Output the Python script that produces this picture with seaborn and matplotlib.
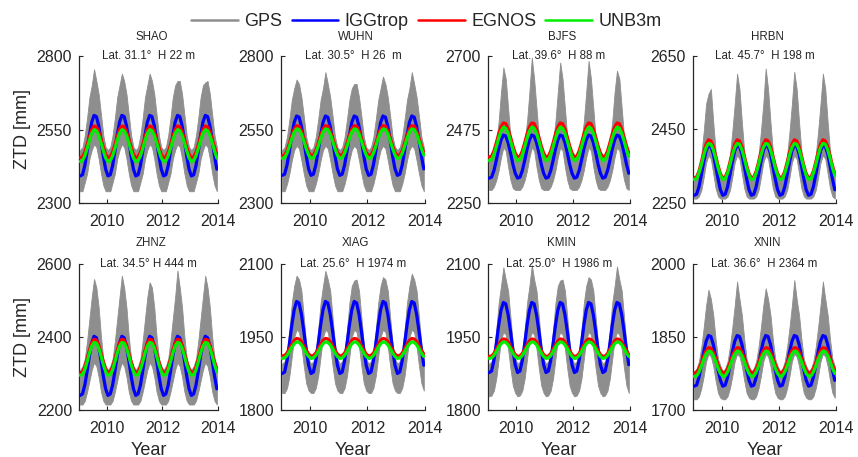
import matplotlib
matplotlib.use("Agg")
import numpy as np
import pandas as pd
import matplotlib.pyplot as plt
from matplotlib.lines import Line2D
import seaborn as sns

# ---------------- data ----------------
stations = ["SHAO", "WUHN", "BJFS", "HRBN", "ZHNZ", "XIAG", "KMIN", "XNIN"]
site_labels = ["Lat. 31.1°  H 22 m", "Lat. 30.5°  H 26  m", "Lat. 39.6°  H 88 m",
               "Lat. 45.7°  H 198 m", "Lat. 34.5° H 444 m", "Lat. 25.6°  H 1974 m",
               "Lat. 25.0°  H 1986 m", "Lat. 36.6°  H 2364 m"]
y_ticks = [[2300, 2550, 2800], [2300, 2550, 2800], [2250, 2475, 2700], [2250, 2450, 2650],
           [2200, 2400, 2600], [1800, 1950, 2100], [1800, 1950, 2100], [1700, 1850, 2000]]
years = [2009, 2010, 2011, 2012, 2013]
months = list(range(12))
x_ticks = [2010, 2012, 2014]

# model monthly climatology (Jan..Dec), mm
igg_shao = [2392, 2396, 2427, 2476, 2531, 2575, 2598, 2594, 2563, 2514, 2459, 2415]
egn_shao = [2454, 2457, 2473, 2498, 2526, 2550, 2562, 2559, 2543, 2518, 2490, 2466]
unb_shao = [2441, 2444, 2460, 2485, 2513, 2537, 2549, 2546, 2530, 2505, 2477, 2453]

igg_wuhn = [2394, 2398, 2429, 2477, 2530, 2574, 2596, 2592, 2561, 2513, 2460, 2416]
egn_wuhn = [2461, 2463, 2478, 2503, 2530, 2552, 2563, 2561, 2546, 2521, 2494, 2472]
unb_wuhn = [2452, 2454, 2469, 2493, 2519, 2541, 2552, 2550, 2535, 2511, 2485, 2463]

igg_bjfs = [2326, 2329, 2349, 2380, 2415, 2443, 2458, 2455, 2435, 2404, 2369, 2341]
egn_bjfs = [2391, 2393, 2409, 2434, 2461, 2483, 2495, 2493, 2477, 2452, 2425, 2403]
unb_bjfs = [2380, 2383, 2398, 2422, 2448, 2470, 2482, 2479, 2464, 2440, 2414, 2392]

igg_hrbn = [2271, 2274, 2294, 2327, 2362, 2392, 2407, 2404, 2384, 2351, 2316, 2286]
egn_hrbn = [2318, 2321, 2336, 2361, 2388, 2410, 2422, 2419, 2404, 2379, 2352, 2330]
unb_hrbn = [2314, 2316, 2331, 2354, 2380, 2401, 2412, 2410, 2395, 2372, 2346, 2325]

igg_zhnz = [2240, 2244, 2268, 2306, 2349, 2384, 2402, 2398, 2374, 2336, 2293, 2258]
egn_zhnz = [2302, 2304, 2318, 2340, 2364, 2384, 2394, 2392, 2378, 2356, 2332, 2312]
unb_zhnz = [2295, 2297, 2310, 2332, 2356, 2375, 2385, 2383, 2370, 2348, 2324, 2305]

igg_xiag = [1875, 1878, 1901, 1936, 1974, 2006, 2023, 2020, 1997, 1962, 1924, 1892]
egn_xiag = [1911, 1912, 1917, 1926, 1935, 1943, 1947, 1946, 1941, 1932, 1923, 1915]
unb_xiag = [1906, 1907, 1912, 1920, 1929, 1936, 1940, 1939, 1934, 1926, 1917, 1910]

igg_kmin = [1877, 1880, 1902, 1936, 1974, 2005, 2021, 2018, 1996, 1962, 1924, 1893]
egn_kmin = [1910, 1911, 1916, 1925, 1934, 1942, 1946, 1945, 1940, 1931, 1922, 1914]
unb_kmin = [1906, 1907, 1912, 1920, 1929, 1936, 1940, 1939, 1934, 1926, 1917, 1910]

igg_xnin = [1749, 1751, 1767, 1792, 1819, 1841, 1853, 1851, 1835, 1810, 1783, 1761]
egn_xnin = [1776, 1777, 1785, 1797, 1811, 1822, 1828, 1827, 1819, 1807, 1793, 1782]
unb_xnin = [1769, 1770, 1778, 1790, 1804, 1815, 1821, 1820, 1812, 1800, 1786, 1775]

# GPS envelope: monthly low / high (Jan..Dec) and yearly summer peak
gps_lo_shao = [2340, 2340, 2370, 2400, 2450, 2480, 2500, 2490, 2450, 2400, 2360, 2340]
gps_hi_shao = [2480, 2490, 2530, 2590, 2660, 2700, 2720, 2715, 2670, 2600, 2530, 2490]
gps_pk_shao = [2755, 2740, 2740, 2715, 2710]

gps_lo_wuhn = [2340, 2340, 2365, 2400, 2445, 2480, 2495, 2485, 2445, 2400, 2360, 2340]
gps_hi_wuhn = [2480, 2490, 2525, 2585, 2650, 2690, 2710, 2705, 2660, 2595, 2525, 2490]
gps_pk_wuhn = [2720, 2745, 2705, 2730, 2745]

gps_lo_bjfs = [2290, 2290, 2300, 2320, 2350, 2390, 2420, 2410, 2360, 2320, 2295, 2290]
gps_hi_bjfs = [2380, 2385, 2400, 2440, 2500, 2590, 2640, 2630, 2540, 2450, 2400, 2385]
gps_pk_bjfs = [2665, 2695, 2680, 2685, 2655]

gps_lo_hrbn = [2262, 2262, 2268, 2285, 2320, 2360, 2380, 2370, 2330, 2290, 2268, 2262]
gps_hi_hrbn = [2320, 2325, 2340, 2380, 2445, 2520, 2570, 2560, 2470, 2390, 2340, 2325]
gps_pk_hrbn = [2547, 2602, 2616, 2607, 2602]

gps_lo_zhnz = [2215, 2215, 2225, 2250, 2280, 2310, 2330, 2320, 2290, 2250, 2225, 2215]
gps_hi_zhnz = [2310, 2320, 2340, 2390, 2450, 2510, 2540, 2535, 2480, 2400, 2340, 2320]
gps_pk_zhnz = [2559, 2568, 2550, 2582, 2568]

gps_lo_xiag = [1835, 1835, 1845, 1870, 1910, 1950, 1965, 1960, 1930, 1890, 1855, 1840]
gps_hi_xiag = [1895, 1900, 1920, 1965, 2020, 2055, 2070, 2068, 2045, 1990, 1935, 1905]
gps_pk_xiag = [2076, 2086, 2066, 2073, 2080]

gps_lo_kmin = [1828, 1830, 1840, 1865, 1905, 1945, 1960, 1955, 1925, 1885, 1850, 1835]
gps_hi_kmin = [1895, 1900, 1920, 1965, 2020, 2055, 2070, 2068, 2045, 1990, 1935, 1905]
gps_pk_kmin = [2093, 2098, 2066, 2073, 2095]

gps_lo_xnin = [1722, 1722, 1728, 1745, 1770, 1800, 1815, 1810, 1790, 1760, 1735, 1725]
gps_hi_xnin = [1780, 1785, 1800, 1830, 1870, 1915, 1930, 1928, 1895, 1845, 1805, 1790]
gps_pk_xnin = [1947, 1964, 1950, 1967, 1964]

igg = [igg_shao, igg_wuhn, igg_bjfs, igg_hrbn, igg_zhnz, igg_xiag, igg_kmin, igg_xnin]
egn = [egn_shao, egn_wuhn, egn_bjfs, egn_hrbn, egn_zhnz, egn_xiag, egn_kmin, egn_xnin]
unb = [unb_shao, unb_wuhn, unb_bjfs, unb_hrbn, unb_zhnz, unb_xiag, unb_kmin, unb_xnin]
gps_lo = [gps_lo_shao, gps_lo_wuhn, gps_lo_bjfs, gps_lo_hrbn, gps_lo_zhnz, gps_lo_xiag, gps_lo_kmin, gps_lo_xnin]
gps_hi = [gps_hi_shao, gps_hi_wuhn, gps_hi_bjfs, gps_hi_hrbn, gps_hi_zhnz, gps_hi_xiag, gps_hi_kmin, gps_hi_xnin]
gps_pk = [gps_pk_shao, gps_pk_wuhn, gps_pk_bjfs, gps_pk_hrbn, gps_pk_zhnz, gps_pk_xiag, gps_pk_kmin, gps_pk_xnin]

series_names = ["GPS", "IGGtrop", "EGNOS", "UNB3m"]
colors = {"GPS": "#8e8e8e", "IGGtrop": "#0000ff", "EGNOS": "#ff0000", "UNB3m": "#00ee00"}

# ---------------- style ----------------
sns.set_theme(style="ticks")
plt.rcParams["font.family"] = ["Liberation Sans", "DejaVu Sans"]
plt.rcParams["text.color"] = "#262626"

fig = plt.figure(figsize=(8.58, 4.57), dpi=100)
W, H = 858.0, 457.0
cols_px = [(79, 218), (281, 425), (488, 630), (693, 836)]
rows_px = [(56, 203), (264, 410)]

# time axis: month centres
t = np.array([y + (m + 0.5) / 12.0 for y in years for m in months])

for i, st in enumerate(stations):
    r, c = divmod(i, 4)
    x0, x1 = cols_px[c]
    yt, yb = rows_px[r]
    ax = fig.add_axes([x0 / W, 1 - yb / H, (x1 - x0) / W, (yb - yt) / H])

    lo = np.array([gps_lo[i][m] for y in years for m in months], dtype=float)
    hi = []
    for k, y in enumerate(years):
        for m in months:
            hi.append(gps_pk[i][k] if m == 6 else gps_hi[i][m])
    hi = np.array(hi, dtype=float)
    ax.fill_between(t, lo, hi, color=colors["GPS"], lw=0.6, edgecolor=colors["GPS"], zorder=1)

    df = pd.DataFrame({
        "t": np.concatenate([t, t, t]),
        "ztd": np.concatenate([np.tile(igg[i], len(years)),
                               np.tile(egn[i], len(years)),
                               np.tile(unb[i], len(years))]),
        "model": ["IGGtrop"] * len(t) + ["EGNOS"] * len(t) + ["UNB3m"] * len(t),
    })
    sns.lineplot(data=df, x="t", y="ztd", hue="model", palette=colors,
                 hue_order=["IGGtrop", "EGNOS", "UNB3m"], lw=2.3, ax=ax,
                 legend=False, zorder=3)

    yts = y_ticks[i]
    ax.set_xlim(2009, 2014)
    ax.set_ylim(yts[0], yts[-1])
    ax.set_yticks(yts)
    ax.set_xticks(x_ticks)
    ax.tick_params(direction="in", length=3, width=0.8, labelsize=11.5,
                   colors="#262626")
    ax.tick_params(axis="x", pad=8)
    ax.tick_params(axis="y", pad=5)
    for s in ["top", "right"]:
        ax.spines[s].set_visible(False)
    for s in ["left", "bottom"]:
        ax.spines[s].set_color("#262626")
        ax.spines[s].set_linewidth(0.9)
    ax.set_xlabel("Year" if r == 1 else "", fontsize=13, labelpad=4)
    ax.set_ylabel("ZTD [mm]" if c == 0 else "", fontsize=13, labelpad=4)

    ax.text(0.5, 1.0, site_labels[i], transform=ax.transAxes, ha="center",
            va="center", fontsize=8.3)
    ax.text(0.52, 1.0 + (19 if r == 0 else 21) / (yb - yt), st, transform=ax.transAxes,
            ha="center", va="center", fontsize=8.3)

handles = [Line2D([], [], color=colors[n], lw=1.8) for n in series_names]
fig.legend(handles, series_names, loc="center", bbox_to_anchor=(0.497, 1 - 22 / H),
           ncol=4, frameon=False, fontsize=13, handlelength=2.6,
           handletextpad=0.35, columnspacing=0.5)

fig.savefig("out.png", dpi=100)
